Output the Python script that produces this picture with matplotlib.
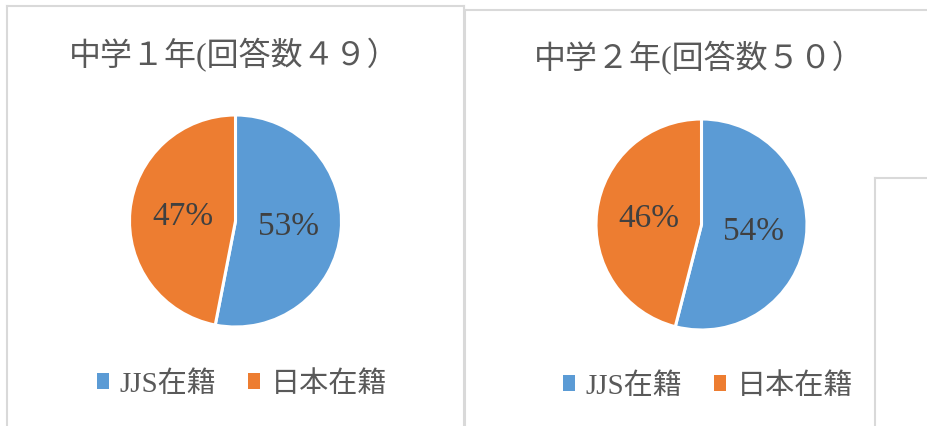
import matplotlib
matplotlib.use("Agg")
import matplotlib.pyplot as plt
from matplotlib.patches import Patch

plt.rcParams['font.family'] = ['Liberation Serif', 'Noto Sans CJK JP']

# データ
titles = ["中学１年(回答数４９）", "中学２年(回答数５０）"]
categories = ["JJS在籍", "日本在籍"]
counts_1 = [26, 23]
counts_2 = [27, 23]
colors = ["#5B9BD5", "#ED7D31"]

W, H = 928, 427
TXT = "#595959"
EDGE = "#D9D9D9"


def px(l, t, r, b):
    # ピクセル座標 -> figure座標
    return [l / W, 1 - b / H, (r - l) / W, (b - t) / H]


def frame(fig, rect, z):
    ax = fig.add_axes(px(*rect), zorder=z)
    ax.set_xticks([])
    ax.set_yticks([])
    ax.set_facecolor("white")
    for s in ax.spines.values():
        s.set_color(EDGE)
        s.set_linewidth(1.5)
    return ax


def pie_panel(fig, frame_rect, pie_rect, counts, title, title_xy, leg_xy, z):
    fax = frame(fig, frame_rect, z)
    ax = fig.add_axes(px(*pie_rect), zorder=z + 1)
    ax.pie(counts, colors=colors, startangle=90, counterclock=False,
           autopct="%1.0f%%", pctdistance=0.5,
           wedgeprops=dict(edgecolor="white", linewidth=2.2),
           textprops=dict(color="#404040", fontsize=24))
    ax.set_xlim(-1, 1)
    ax.set_ylim(-1, 1)
    ax.set_aspect("equal")
    ax.axis("off")
    fax.text(title_xy[0] / W, 1 - title_xy[1] / H, title, transform=fig.transFigure,
             ha="center", va="center", fontsize=23, color=TXT)
    handles = [Patch(facecolor=c, edgecolor="none") for c in colors]
    fax.legend(handles, categories, loc="center", ncol=2, frameon=False,
               bbox_to_anchor=(leg_xy[0] / W, 1 - leg_xy[1] / H),
               bbox_transform=fig.transFigure, fontsize=21, labelcolor=TXT,
               handlelength=0.42, handleheight=0.42, handletextpad=0.35,
               columnspacing=1.1)


fig = plt.figure(figsize=(W / 100, H / 100), dpi=100)

pie_panel(fig, (7, 7, 464, 445), (129, 116, 342, 328), counts_1, titles[0],
          (234, 55), (242, 385), 0)
pie_panel(fig, (465, 11, 945, 445), (596, 120, 807, 331), counts_2, titles[1],
          (699, 58), (708, 387), 2)
frame(fig, (875, 179, 945, 445), 4)

fig.savefig("out.png", dpi=100, facecolor="white")
